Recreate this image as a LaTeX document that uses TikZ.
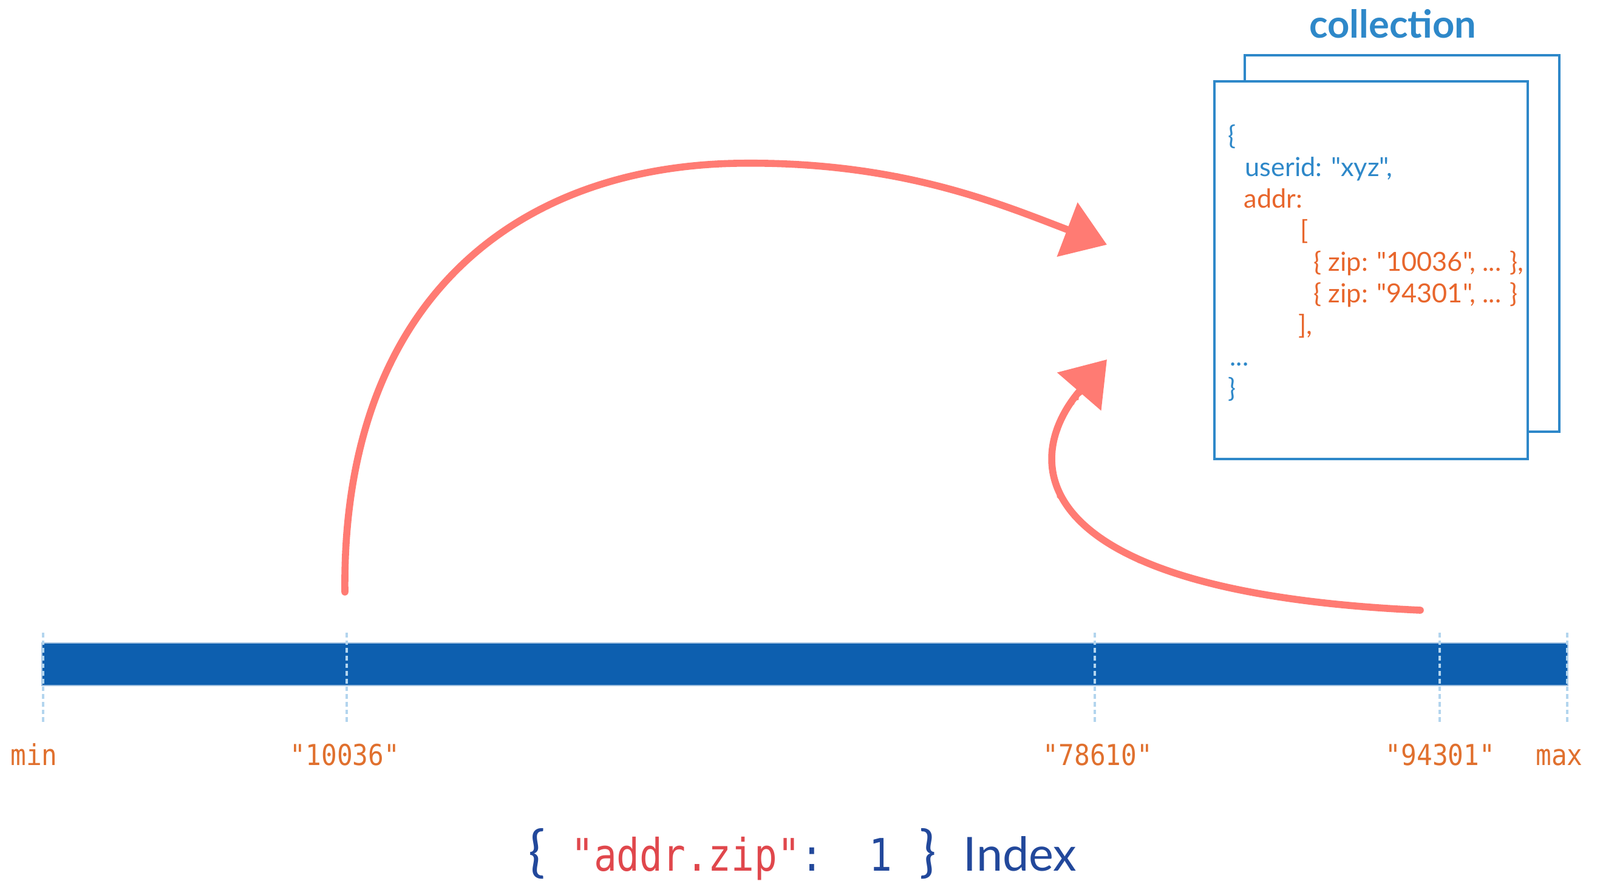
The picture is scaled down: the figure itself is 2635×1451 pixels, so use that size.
\documentclass[tikz,border=0pt]{standalone}
\usepackage{fontspec}
\usetikzlibrary{arrows.meta,decorations.pathmorphing}
\newfontfamily\latof{Lato}
\newfontfamily\tickmono[FakeStretch=0.9]{DejaVu Sans Mono}
\newfontfamily\bigmono[FakeStretch=0.85]{DejaVu Sans Mono}
\definecolor{barblue}{HTML}{0D5FAF}
\definecolor{tickblue}{HTML}{B3D5EE}
\definecolor{lblorange}{HTML}{E0702E}
\definecolor{chalk}{HTML}{FF7B73}
\definecolor{docblue}{HTML}{2E88C9}
\definecolor{docorange}{HTML}{E8662C}
\definecolor{idxblue}{HTML}{22489B}
\definecolor{idxred}{HTML}{E0474C}
\tikzset{
  dashtick/.style={draw=tickblue, line width=0.9pt, dash pattern=on 2.2pt off 1.4pt},
  ticklabel/.style={anchor=base, text=lblorange, inner sep=0pt, font=\tickmono\fontsize{13.5}{16}\selectfont},
  docpage/.style={draw=docblue, line width=1.3pt, fill=white, inner sep=0pt},
  doctext/.style={anchor=base west, inner sep=0pt, font=\latof\fontsize{12.3}{15}\selectfont},
  docb/.style={doctext, text=docblue},
  doco/.style={doctext, text=docorange},
  chalkarrow/.style={draw=chalk, line width=3.3pt, line cap=round, -{Triangle[length=0.7cm,width=0.93cm]}},
  chalkrough/.style={draw=chalk, line width=1.4pt, line cap=round, decorate, decoration={random steps, segment length=1.6pt, amplitude=0.7pt}},
}
\begin{document}
\begin{tikzpicture}[x=0.01cm,y=-0.01cm]
\useasboundingbox (0,0) rectangle (2635,1451);
% collection pages
\node[docpage, minimum width=5.18cm, minimum height=6.2cm] (backpage) at (2309,401) {};
\node[docpage, minimum width=5.16cm, minimum height=6.22cm] (frontpage) at (2258,445) {};
\node[anchor=base, inner sep=0pt, text=docblue, font=\latof\bfseries\fontsize{18}{20}\selectfont] (title) at (2294,62) {collection};
% document text
\node[docb] (l1) at (2022,238) {\{};
\node[docb] (l2) at (2050,290) {userid: "xyz",};
\node[doco] (l3) at (2048,342) {addr:};
\node[doco] (l4) at (2141,394) {[};
\node[doco] (l5) at (2163,446) {\{ zip: "10036", ... \},};
\node[doco] (l6) at (2163,498) {\{ zip: "94301", ... \}};
\node[doco] (l7) at (2138,550) {],};
\node[docb] (l8) at (2025,602) {...};
\node[docb] (l9) at (2022,654) {\}};
% index bar
\node[fill=barblue, draw=barblue!40!white, line width=0.6pt, minimum width=25.11cm, minimum height=0.7cm, inner sep=0pt] (bar) at (1325.5,1094) {};
\foreach \n/\x in {t0/71, t1/571, t2/1803, t3/2371, t4/2581}{
  \coordinate (\n a) at (\x,1042);
  \coordinate (\n b) at (\x,1192);
  \draw[dashtick] (\n a) -- (\n b);
}
\node[ticklabel] (lmin) at (56,1260) {min};
\node[ticklabel] (l10036) at (568,1260) {"10036"};
\node[ticklabel] (l78610) at (1808,1260) {"78610"};
\node[ticklabel] (l94301) at (2372,1260) {"94301"};
\node[ticklabel] (lmax) at (2568,1260) {max};
% arrows
\coordinate (a1s) at (568,975);
\coordinate (a1m) at (1210,269);
\coordinate (a1e) at (1823,403);
\coordinate (a1r) at (1760,378);
\draw[chalkarrow] (a1s) .. controls (563,504) and (840,277) .. (a1m) .. controls (1479,264) and (1647,336) .. (a1e);
\draw[chalkrough] (a1s) .. controls (563,504) and (840,277) .. (a1m) .. controls (1479,264) and (1630,330) .. (a1r);
\coordinate (a2s) at (2339,1005);
\coordinate (a2e) at (1823,592);
\coordinate (a2r) at (1785,640);
\draw[chalkarrow] (a2s) .. controls (1681,975) and (1681,756) .. (a2e);
\draw[chalkrough] (a2s) .. controls (1681,975) and (1675,760) .. (a2r);
% index caption
\node[anchor=base, inner sep=0pt] (caption) at (1322,1434) {{\latof\fontsize{26}{28}\selectfont\color{idxblue}\{}\hspace{0.42cm}{\bigmono\fontsize{21}{24}\selectfont\color{idxred}"addr.zip"}{\bigmono\fontsize{21}{24}\selectfont\color{idxblue}:~~1}\hspace{0.45cm}{\latof\fontsize{26}{28}\selectfont\color{idxblue}\}}\hspace{0.45cm}{\latof\fontsize{22}{26}\selectfont\color{idxblue}Index}};
\end{tikzpicture}
\end{document}
